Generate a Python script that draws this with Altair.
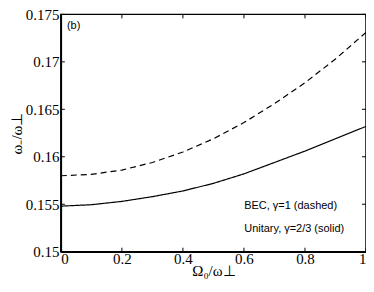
import altair as alt
import pandas as pd

omega0 = [0.0, 0.1, 0.2, 0.3, 0.4, 0.5, 0.6, 0.7, 0.8, 0.9, 1.0]
bec = [0.1580, 0.15815, 0.1586, 0.1594, 0.1605, 0.1619, 0.1636, 0.1656, 0.1678, 0.1703, 0.1731]
unitary = [0.1548, 0.15495, 0.1553, 0.1558, 0.1564, 0.1572, 0.1582, 0.1594, 0.1606, 0.1619, 0.1632]

x_ticks = [0, 0.2, 0.4, 0.6, 0.8, 1.0]
y_ticks = [0.15, 0.155, 0.16, 0.165, 0.17, 0.175]

notes = ["(b)", "BEC, γ=1 (dashed)", "Unitary, γ=2/3 (solid)"]
note_x = [0.02, 0.601, 0.601]
note_y = [0.1738, 0.15486, 0.15238]

df = pd.DataFrame({
    "x": omega0 * 2,
    "y": bec + unitary,
    "series": ["BEC"] * len(omega0) + ["Unitary"] * len(omega0),
})
xt = pd.DataFrame({"t": x_ticks})
yt = pd.DataFrame({"t": y_ticks})
nt = pd.DataFrame({"label": notes, "x": note_x, "y": note_y})

W, H = 306, 238
serif = "Liberation Serif"
sans = "Liberation Sans"

xs = alt.Scale(domain=[0, 1], nice=False, zero=False)
ys = alt.Scale(domain=[0.15, 0.175], nice=False, zero=False)

xaxis = alt.Axis(values=x_ticks, format="~g", tickSize=0, labelPadding=0,
                 labelFont=serif, labelFontSize=15, labelColor="black",
                 domainColor="black", grid=False, title="Ω₀/ω⊥",
                 titleFont=serif, titleFontSize=15, titleFontWeight="normal",
                 titleColor="black", titlePadding=-3)
yaxis = alt.Axis(values=y_ticks, format="~g", tickSize=0, labelPadding=2,
                 labelFont=serif, labelFontSize=15, labelColor="black",
                 domainColor="black", grid=False, title="ω₋/ω⊥",
                 titleFont=serif, titleFontSize=15, titleFontWeight="normal",
                 titleColor="black", titlePadding=1)

lines = alt.Chart(df).mark_line(strokeWidth=1.2, color="black").encode(
    x=alt.X("x:Q", scale=xs, axis=xaxis),
    y=alt.Y("y:Q", scale=ys, axis=yaxis),
    strokeDash=alt.StrokeDash("series:N", scale=alt.Scale(domain=["BEC", "Unitary"], range=[[6, 4], [1, 0]]), legend=None),
    detail="series:N",
)

tick_style = dict(color="black", strokeWidth=1)
bt = alt.Chart(xt).mark_rule(**tick_style).encode(x=alt.X("t:Q", scale=xs), y=alt.value(H), y2=alt.value(H - 4))
tt = alt.Chart(xt).mark_rule(**tick_style).encode(x=alt.X("t:Q", scale=xs), y=alt.value(0), y2=alt.value(4))
lt = alt.Chart(yt).mark_rule(**tick_style).encode(y=alt.Y("t:Q", scale=ys), x=alt.value(0), x2=alt.value(4))
rt = alt.Chart(yt).mark_rule(**tick_style).encode(y=alt.Y("t:Q", scale=ys), x=alt.value(W), x2=alt.value(W - 4))

texts = alt.Chart(nt).mark_text(font=sans, fontSize=11, align="left", baseline="middle", color="black").encode(
    x=alt.X("x:Q", scale=xs), y=alt.Y("y:Q", scale=ys), text="label:N")

chart = alt.layer(lines, bt, tt, lt, rt, texts).properties(
    width=W, height=H,
    autosize=alt.AutoSizeParams(type="none"),
    padding={"left": 53, "top": 6, "right": 0, "bottom": 38},
).configure_view(stroke="black", strokeWidth=1.5).configure_axis(domainWidth=1.5)

chart.save("out.html", embed_options={"renderer": "svg", "actions": False})
